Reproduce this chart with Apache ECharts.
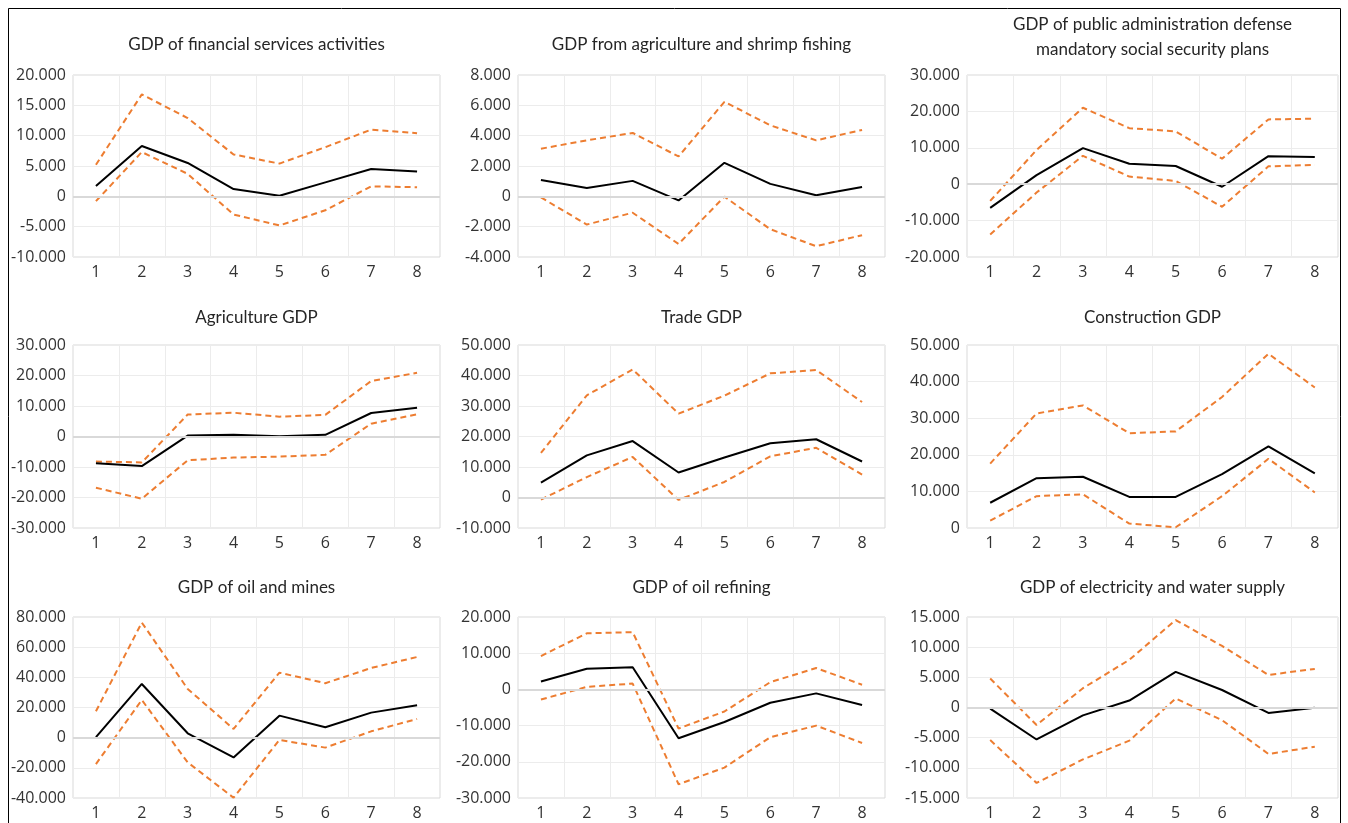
<!DOCTYPE html>
<html>
<head>
<meta charset="utf-8">
<script src="https://cdn.jsdelivr.net/npm/echarts@6/dist/echarts.min.js"></script>
<style>
html,body{margin:0;padding:0;background:#fff;}
#chart{width:1348px;height:823px;}
</style>
</head>
<body>
<div id="chart"></div>
<script>
// ---------- data ----------
const categories = ['1','2','3','4','5','6','7','8'];

const titles = [
  'GDP of financial services activities',
  'GDP from agriculture and shrimp fishing',
  'GDP of public administration defense\nmandatory social security plans',
  'Agriculture GDP',
  'Trade GDP',
  'Construction GDP',
  'GDP of oil and mines',
  'GDP of oil refining',
  'GDP of electricity and water supply'
];

// axis ranges
const axisMin = [-10000, -4000, -20000, -30000, -10000, 0, -40000, -30000, -15000];
const axisMax = [20000, 8000, 30000, 30000, 50000, 50000, 80000, 20000, 15000];
const axisStep = [5000, 2000, 10000, 10000, 10000, 10000, 20000, 10000, 5000];

// central estimates and bounds
const finCentral   = [1700, 8300, 5500, 1200, 100, 2300, 4500, 4100];
const finUpper     = [5200, 16800, 12900, 6900, 5400, 8100, 11000, 10400];
const finLower     = [-800, 7300, 3700, -3000, -4800, -2300, 1650, 1500];

const shrCentral   = [1080, 550, 1020, -270, 2210, 820, 70, 620];
const shrUpper     = [3140, 3690, 4180, 2630, 6230, 4680, 3690, 4380];
const shrLower     = [-70, -1860, -1080, -3140, -20, -2170, -3290, -2560];

const pubCentral   = [-6500, 2500, 9900, 5600, 5000, -700, 7700, 7500];
const pubUpper     = [-4600, 9400, 21000, 15400, 14500, 7000, 17800, 18000];
const pubLower     = [-13800, -2300, 7800, 2100, 900, -6200, 4900, 5300];

const agrCentral   = [-8800, -9700, 300, 550, 100, 550, 7700, 9400];
const agrUpper     = [-8200, -8500, 7200, 7800, 6500, 7100, 18200, 20900];
const agrLower     = [-16800, -20400, -7800, -6900, -6600, -6000, 4200, 7300];

const trdCentral   = [4900, 13800, 18500, 8200, 13100, 17800, 19100, 11800];
const trdUpper     = [14600, 33500, 42000, 27500, 33400, 40700, 41800, 31300];
const trdLower     = [-700, 6700, 13300, -800, 5100, 13500, 16300, 7500];

const conCentral   = [6900, 13600, 14000, 8500, 8500, 14700, 22300, 14900];
const conUpper     = [17600, 31300, 33500, 25900, 26400, 35800, 47600, 38400];
const conLower     = [2000, 8700, 9200, 1200, 200, 8700, 18900, 9700];

const oilCentral   = [300, 35600, 2900, -13100, 14600, 6900, 16600, 21500];
const oilUpper     = [17500, 76300, 32300, 5800, 43100, 36100, 46200, 53500];
const oilLower     = [-17500, 25000, -16400, -39800, -1500, -6600, 4200, 12400];

const refCentral   = [2200, 5700, 6100, -13500, -9000, -3700, -1100, -4300];
const refUpper     = [9200, 15500, 15800, -10800, -6100, 2000, 5900, 1300];
const refLower     = [-2800, 700, 1600, -26200, -21600, -13200, -10000, -14800];

const eleCentral   = [-200, -5300, -1300, 1150, 5900, 2900, -900, -50];
const eleUpper     = [4800, -2900, 3200, 7900, 14500, 10200, 5400, 6400];
const eleLower     = [-5400, -12500, -8600, -5500, 1500, -2100, -7700, -6500];

const centrals = [finCentral, shrCentral, pubCentral, agrCentral, trdCentral, conCentral, oilCentral, refCentral, eleCentral];
const uppers   = [finUpper, shrUpper, pubUpper, agrUpper, trdUpper, conUpper, oilUpper, refUpper, eleUpper];
const lowers   = [finLower, shrLower, pubLower, agrLower, trdLower, conLower, oilLower, refLower, eleLower];

// ---------- layout ----------
const colLeft  = [73, 518, 967];
const colWidth = [367, 367, 371];
const rowTop   = [75, 345, 617];
const rowHeight= [182, 183, 181];
const titleY   = [45, 318, 588];

function fmt(v){
  if (v === 0) return '0';
  const s = v < 0 ? '-' : '';
  const a = Math.abs(v);
  const th = Math.floor(a / 1000);
  const rest = String(a % 1000).padStart(3, '0');
  return s + th + '.' + rest;
}

const TITLE_FONT = 'Lato';
const TICK_FONT = 'Open Sans';
const grids = [], xAxes = [], yAxes = [], series = [], graphics = [];

for (let i = 0; i < 9; i++) {
  const r = Math.floor(i / 3), c = i % 3;
  grids.push({left: colLeft[c], top: rowTop[r], width: colWidth[c], height: rowHeight[r],
    show: true, borderColor: '#d9d9d9', borderWidth: 1, containLabel: false});
  xAxes.push({type: 'category', gridIndex: i, data: categories, boundaryGap: true,
    axisLine: {show: false}, axisTick: {show: false},
    axisLabel: {color: '#333333', fontFamily: TICK_FONT, fontSize: 16, margin: 7},
    splitLine: {show: true, lineStyle: {color: '#ececec', width: 1}}});
  yAxes.push({type: 'value', gridIndex: i, min: axisMin[i], max: axisMax[i], interval: axisStep[i],
    axisLine: {show: false}, axisTick: {show: false},
    axisLabel: {color: '#333333', fontFamily: TICK_FONT, fontSize: 16, margin: 7, formatter: fmt},
    splitLine: {show: true, lineStyle: {color: '#ececec', width: 1}}});
  const zeroLine = axisMin[i] < 0 ? {
    silent: true, symbol: 'none', label: {show: false},
    lineStyle: {color: '#d9d9d9', width: 2, type: 'solid'},
    data: [{yAxis: 0}]
  } : undefined;
  series.push({type: 'line', xAxisIndex: i, yAxisIndex: i, data: uppers[i], symbol: 'none',
    lineStyle: {color: '#ED7D31', width: 2, type: [6, 4]}, z: 3});
  series.push({type: 'line', xAxisIndex: i, yAxisIndex: i, data: lowers[i], symbol: 'none',
    lineStyle: {color: '#ED7D31', width: 2, type: [6, 4]}, z: 3});
  series.push({type: 'line', xAxisIndex: i, yAxisIndex: i, data: centrals[i], symbol: 'none',
    lineStyle: {color: '#000000', width: 2}, z: 4, markLine: zeroLine});
  const lines = titles[i].split('\n');
  const cx = colLeft[c] + colWidth[c] / 2;
  const tStyle = (t) => ({text: t, textAlign: 'center', textVerticalAlign: 'middle', font: '17px ' + TITLE_FONT, fill: '#262626'});
  if (lines.length === 1) {
    graphics.push({type: 'text', x: cx, y: titleY[r], style: tStyle(lines[0])});
  } else {
    graphics.push({type: 'text', x: cx, y: 25, style: tStyle(lines[0])});
    graphics.push({type: 'text', x: cx, y: 50, style: tStyle(lines[1])});
  }
}
// outer frame
graphics.push({type: 'rect', shape: {x: 8.5, y: 8.5, width: 1332, height: 830}, style: {fill: 'none', stroke: '#000', lineWidth: 1}, z: -1});

const chart = echarts.init(document.getElementById('chart'), null, {renderer: 'canvas'});
chart.setOption({
  animation: false,
  backgroundColor: '#fff',
  grid: grids, xAxis: xAxes, yAxis: yAxes, series: series,
  graphic: graphics
});
</script>
</body>
</html>
